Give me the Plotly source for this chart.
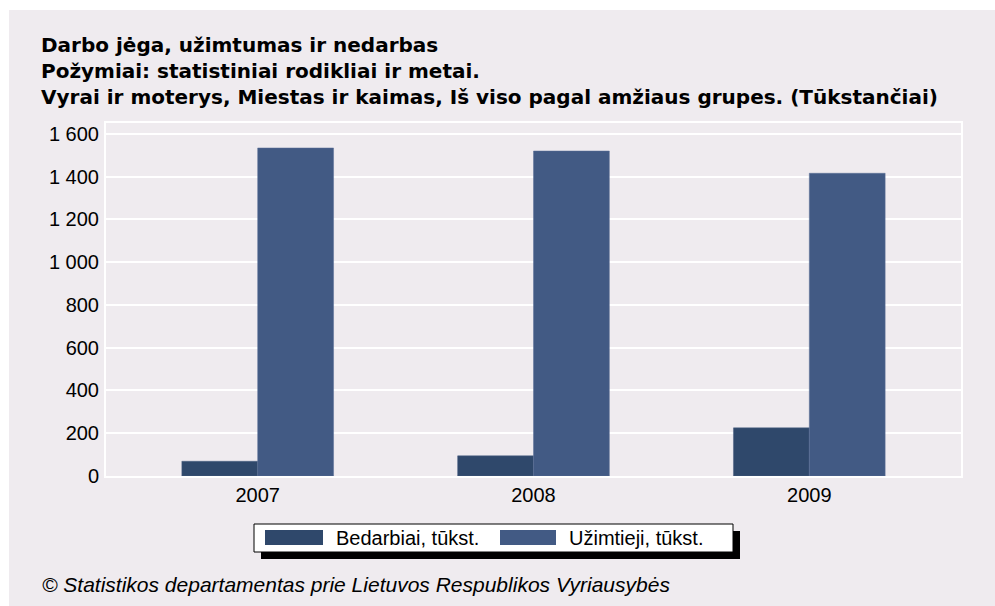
import plotly.graph_objects as go

# ---- data ----
years = ["2007", "2008", "2009"]
bedarbiai = [69.0, 94.3, 225.1]
uzimtieji = [1534.2, 1520.0, 1415.9]
y_tickvals = [0, 200, 400, 600, 800, 1000, 1200, 1400, 1600]
y_ticktext = ["0", "200", "400", "600", "800", "1 000", "1 200", "1 400", "1 600"]
series_names = ["Bedarbiai, tūkst.", "Užimtieji, tūkst."]
title_lines = [
    "Darbo jėga, užimtumas ir nedarbas",
    "Požymiai: statistiniai rodikliai ir metai.",
    "Vyrai ir moterys, Miestas ir kaimas, Iš viso pagal amžiaus grupes. (Tūkstančiai)",
]
footer = "© Statistikos departamentas prie Lietuvos Respublikos Vyriausybės"

# ---- style ----
W, H = 995, 606
L, R, T, B = 106, 961, 123, 476
C_BED = "#2F486B"
C_UZ = "#425A84"
PANEL = "#EFEBEF"
PLOTBG = "#DFDFDF"
TICKFONT = dict(family="Liberation Sans, Arial, sans-serif", size=20, color="#000000")


def px(x):
    return (x - L) / (R - L)


def py(y):
    return (B - y) / (B - T)


fig = go.Figure()
fig.add_trace(go.Bar(x=years, y=bedarbiai, name=series_names[0],
                     marker=dict(color=C_BED, line=dict(width=0.5, color="#4A5F80"))))
fig.add_trace(go.Bar(x=years, y=uzimtieji, name=series_names[1],
                     marker=dict(color=C_UZ, line=dict(width=0.5, color="#5A6F96"))))

shapes = [
    # panel background
    dict(type="rect", xref="paper", yref="paper", x0=px(9), x1=px(W + 5), y0=py(10), y1=py(H + 5),
         fillcolor=PANEL, line=dict(width=0), layer="below"),
    # legend shadow
    dict(type="rect", xref="paper", yref="paper", x0=px(261), x1=px(740), y0=py(531), y1=py(559),
         fillcolor="#000000", line=dict(width=0)),
    # legend box
    dict(type="rect", xref="paper", yref="paper", x0=px(254), x1=px(733), y0=py(524), y1=py(552),
         fillcolor="#FFFFFF", line=dict(width=1, color="#000000")),
    # legend swatches
    dict(type="rect", xref="paper", yref="paper", x0=px(265), x1=px(323), y0=py(530), y1=py(545),
         fillcolor=C_BED, line=dict(width=0)),
    dict(type="rect", xref="paper", yref="paper", x0=px(500), x1=px(556), y0=py(530), y1=py(545),
         fillcolor=C_UZ, line=dict(width=0)),
]

annotations = []
for i, line in enumerate(title_lines):
    annotations.append(dict(text=line, xref="paper", yref="paper", x=px(39), y=py(45 + 26 * i),
                            xanchor="left", yanchor="middle", showarrow=False,
                            font=dict(family="DejaVu Sans, sans-serif", size=20, color="#000000",
                                      weight="bold")))
annotations.append(dict(text=series_names[0], xref="paper", yref="paper", x=px(334), y=py(538),
                        xanchor="left", yanchor="middle", showarrow=False, font=TICKFONT))
annotations.append(dict(text=series_names[1], xref="paper", yref="paper", x=px(567), y=py(538),
                        xanchor="left", yanchor="middle", showarrow=False, font=TICKFONT))
annotations.append(dict(text=footer, xref="paper", yref="paper", x=px(40), y=py(584),
                        xanchor="left", yanchor="middle", showarrow=False,
                        font=dict(family="Liberation Sans, Arial, sans-serif", size=21,
                                  color="#000000", style="italic")))

fig.update_layout(
    width=W, height=H,
    margin=dict(l=L, r=W - R, t=T, b=H - B, pad=0),
    paper_bgcolor="#FFFFFF",
    plot_bgcolor=PLOTBG,
    barmode="group",
    bargap=0.45,
    bargroupgap=0,
    showlegend=False,
    shapes=shapes,
    annotations=annotations,
    xaxis=dict(type="category", range=[-0.55, 2.55], showgrid=False, ticks="",
               tickfont=TICKFONT, showline=True, mirror=True, linecolor="#FFFFFF", linewidth=2,
               zeroline=False, fixedrange=True),
    yaxis=dict(range=[0, 1651], tickvals=y_tickvals, ticktext=y_ticktext, tickfont=TICKFONT,
               showgrid=True, gridcolor="#FFFFFF", gridwidth=2, ticks="",
               ticklabelstandoff=1, showline=True, mirror=True, linecolor="#FFFFFF",
               linewidth=2, zeroline=False, fixedrange=True),
)

fig.write_html("out.html", config=dict(displayModeBar=False),
               post_script="document.body.style.margin='0px';document.body.style.overflow='hidden';")
